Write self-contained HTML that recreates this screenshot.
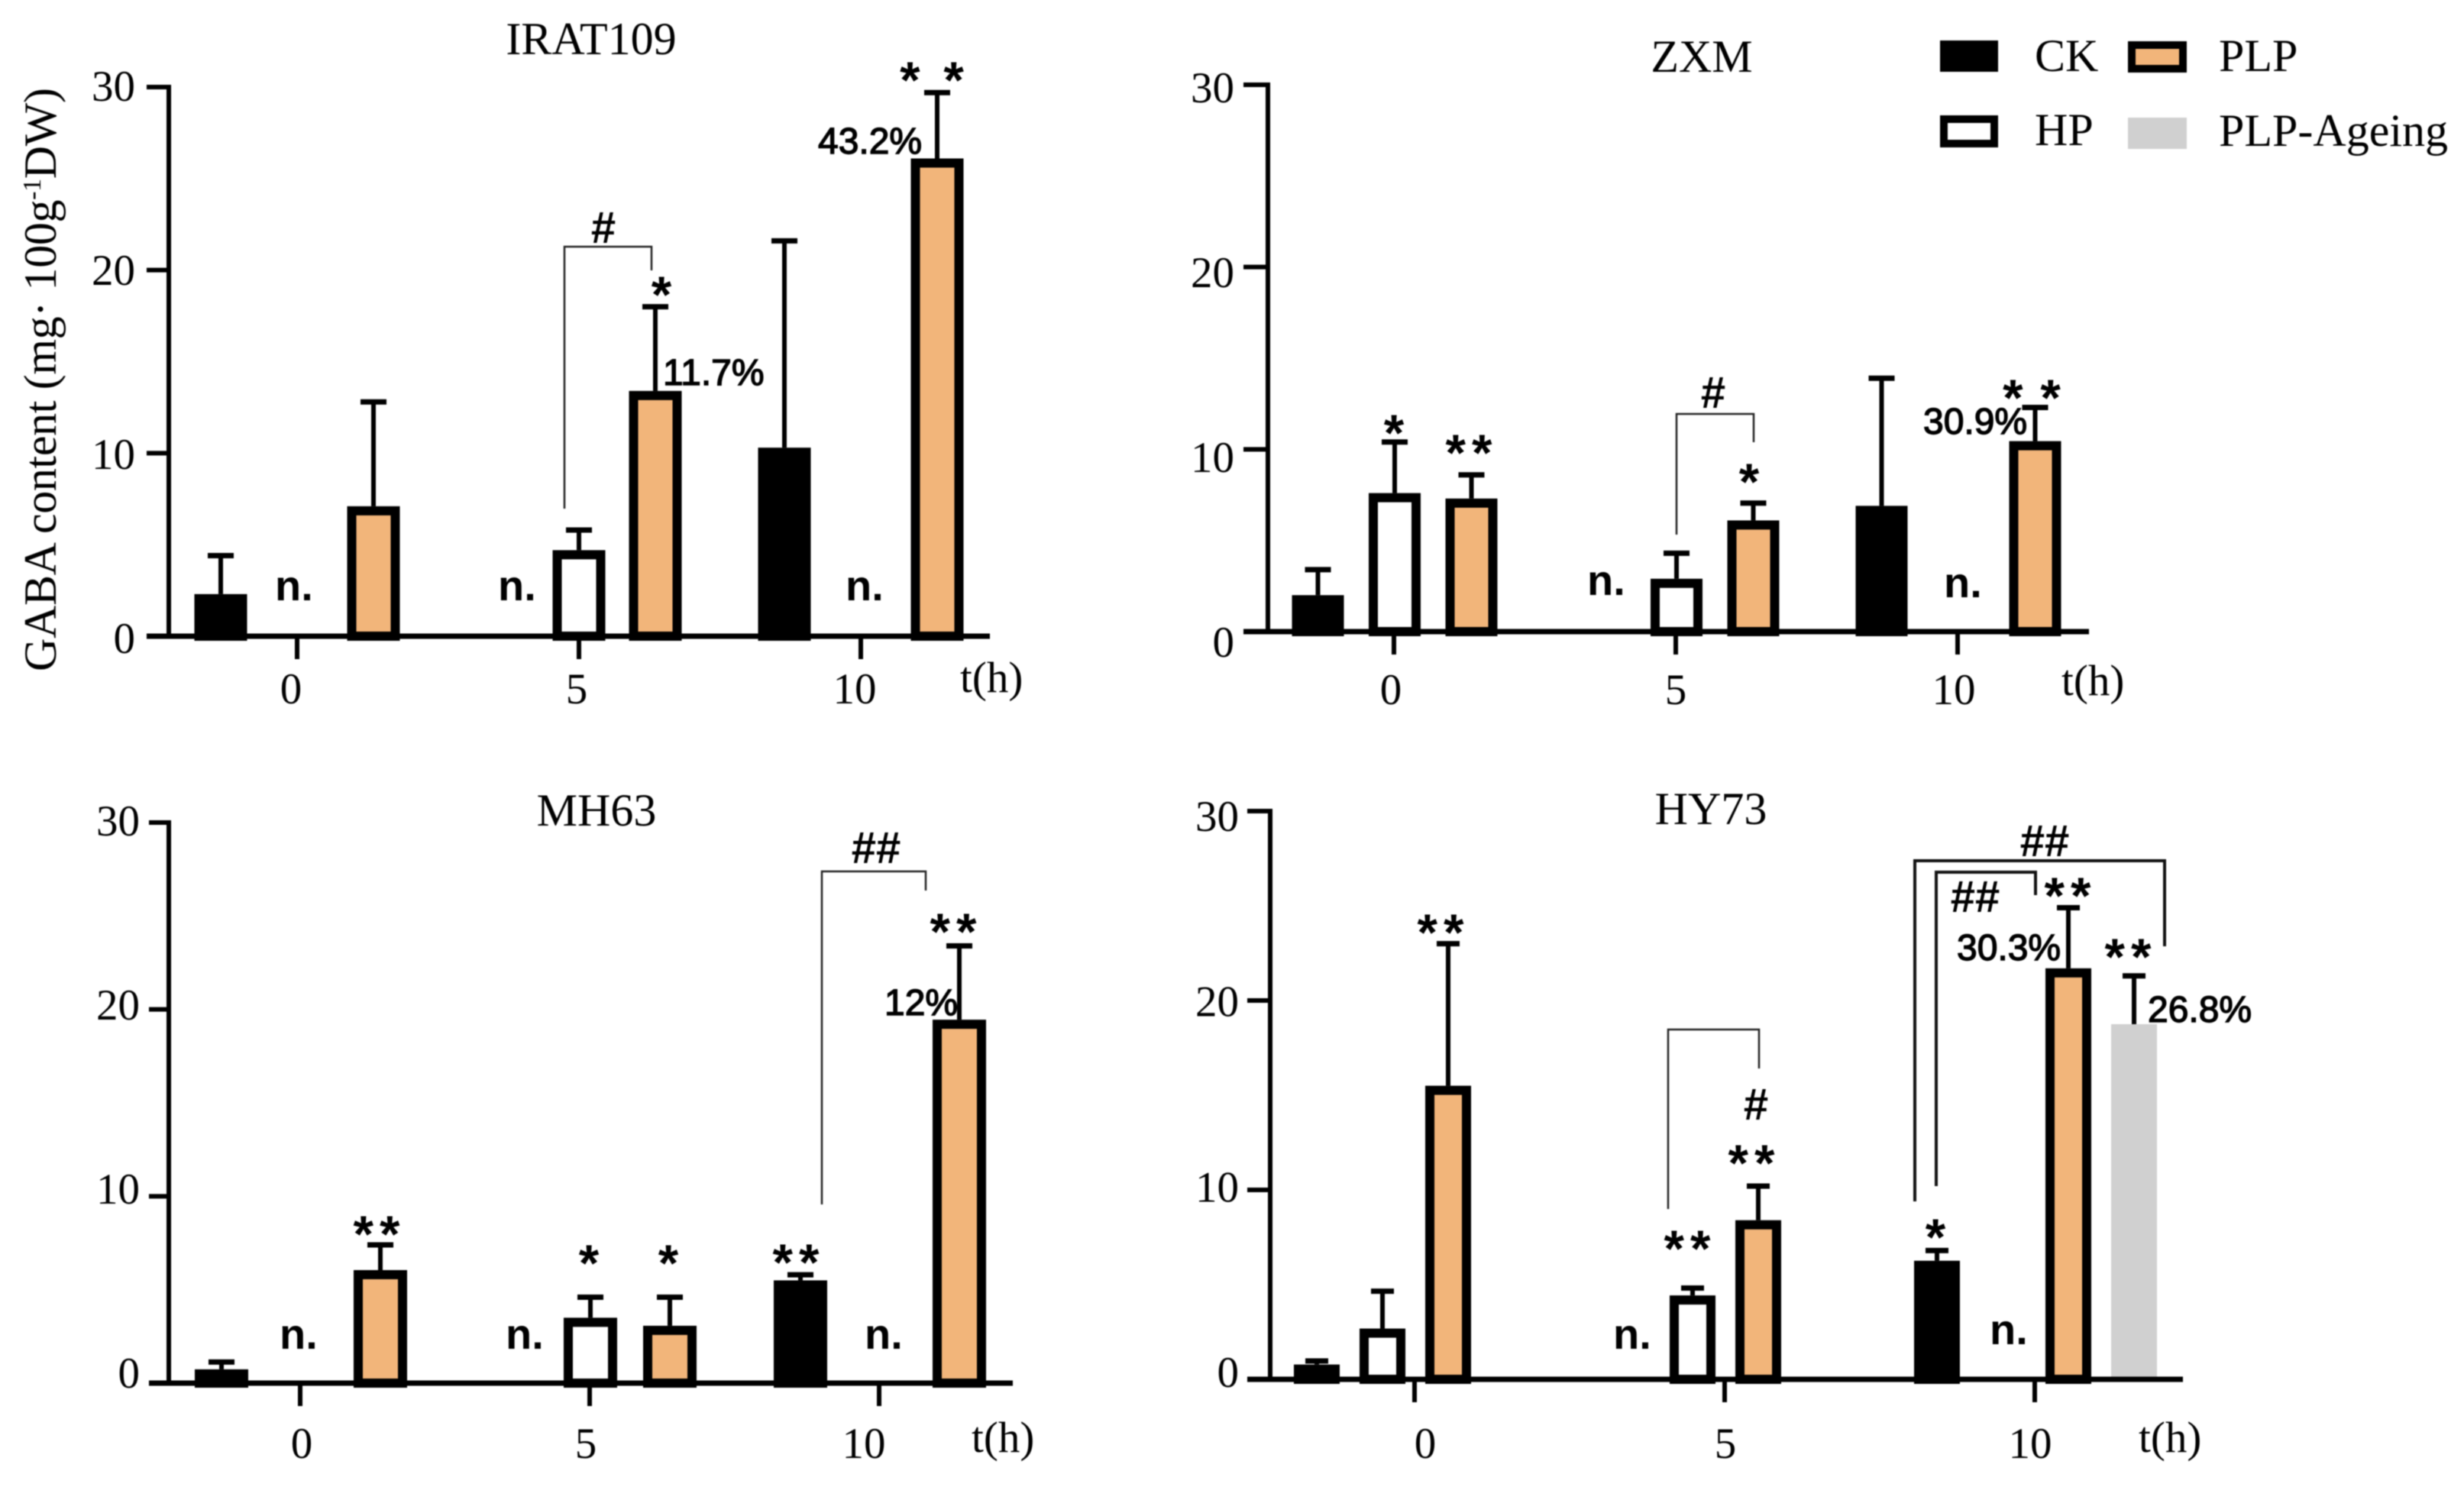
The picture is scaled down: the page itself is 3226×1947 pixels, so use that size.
<!DOCTYPE html>
<html lang="en">
<head>
<meta charset="utf-8">
<title>GABA content under HP, PLP and PLP-Ageing treatments</title>
<style>
html,body{margin:0;padding:0;background:#fff;}
#chart{display:block;width:3226px;height:1947px;filter:blur(0.7px);}
text{fill:#000;}
.serif{font-family:"Liberation Serif",serif;font-size:60px;}
.axis-title{font-family:"Liberation Serif",serif;font-size:60px;}
.tick{font-family:"Liberation Serif",serif;font-size:57px;}
.note{font-family:"Liberation Sans",sans-serif;}
.na{font-size:56px;font-weight:700;}
.pct{font-size:48px;font-weight:400;stroke:#000;stroke-width:1.4px;}
.star{font-size:68px;font-weight:700;text-anchor:middle;letter-spacing:8px;}
.hash{font-size:58px;font-weight:700;text-anchor:middle;}
.bracket{fill:none;stroke:#222;stroke-width:2.5px;}
.bracket-heavy{fill:none;stroke:#111;stroke-width:4px;}
</style>
</head>
<body>
<svg id="chart" xmlns="http://www.w3.org/2000/svg" width="3226" height="1947" viewBox="0 0 3226 1947">
  <rect x="0" y="0" width="3226" height="1947" fill="#fff"/>

  <text class="axis-title" transform="translate(73,879) rotate(-90)" textLength="764" lengthAdjust="spacing">GABA content (mg· 100g<tspan font-size="34" dy="-20">-1</tspan><tspan dy="20">DW)</tspan></text>

  <g id="marks"></g>

  <!-- IRAT109 annotations -->
  <g>
    <text class="note na" x="360" y="786">n.</text>
    <text class="note na" x="652" y="786">n.</text>
    <text class="note na" x="1107" y="786">n.</text>
    <text class="note pct" x="1071" y="201">43.2%</text>
    <text class="note pct" x="868" y="504">11.7%</text>
    <text class="note star" x="1223" y="128" style="letter-spacing:6px">* *</text>
    <text class="note star" x="866" y="409" style="letter-spacing:0">*</text>
    <text class="note hash" x="790" y="318">#</text>
    <path class="bracket" d="M739 666V323H853V354"/>
  </g>

  <!-- ZXM annotations -->
  <g>
    <text class="note na" x="2078" y="779">n.</text>
    <text class="note na" x="2545" y="782">n.</text>
    <text class="note star" x="1825" y="590" style="letter-spacing:0">*</text>
    <text class="note star" x="1927" y="616">**</text>
    <text class="note star" x="2290" y="654" style="letter-spacing:0">*</text>
    <text class="note star" x="2661" y="544" style="letter-spacing:2px">* *</text>
    <text class="note hash" x="2243" y="534">#</text>
    <path class="bracket" d="M2195 700V542H2296V579"/>
    <text class="note pct" x="2518" y="568">30.9%</text>
  </g>

  <!-- MH63 annotations -->
  <g>
    <text class="note na" x="366" y="1766">n.</text>
    <text class="note na" x="662" y="1766">n.</text>
    <text class="note na" x="1132" y="1766">n.</text>
    <text class="note star" x="497" y="1639">**</text>
    <text class="note star" x="771" y="1677" style="letter-spacing:0">*</text>
    <text class="note star" x="875" y="1677" style="letter-spacing:0">*</text>
    <text class="note star" x="1046" y="1676">**</text>
    <text class="note star" x="1252" y="1243">**</text>
    <text class="note hash" x="1147" y="1130">##</text>
    <path class="bracket" d="M1076 1577V1141H1212V1166"/>
    <text class="note pct" x="1158" y="1329">12%</text>
  </g>

  <!-- HY73 annotations -->
  <g>
    <text class="note star" x="1890" y="1244">**</text>
    <path class="bracket" d="M2184 1583V1348H2303V1399"/>
    <text class="note hash" x="2299" y="1466">#</text>
    <text class="note star" x="2297" y="1546">**</text>
    <text class="note star" x="2213" y="1658">**</text>
    <text class="note na" x="2112" y="1766">n.</text>
    <text class="note na" x="2605" y="1760">n.</text>
    <text class="note star" x="2534" y="1643" style="letter-spacing:0">*</text>
    <path class="bracket-heavy" d="M2507 1573V1127H2834V1239"/>
    <path class="bracket-heavy" d="M2535 1553V1142H2665V1172"/>
    <text class="note hash" x="2586" y="1194">##</text>
    <text class="note hash" x="2677" y="1121">##</text>
    <text class="note star" x="2711" y="1196">**</text>
    <text class="note star" x="2790" y="1276">**</text>
    <text class="note pct" x="2562" y="1257">30.3%</text>
    <text class="note pct" x="2812" y="1338">26.8%</text>
  </g>

  <!-- Legend -->
  <g>
    <g>
      <rect x="2540" y="53" width="76" height="41" fill="#000"/>
      <text class="serif" x="2664" y="93">CK</text>
    </g>
    <g>
      <rect x="2791" y="59" width="67" height="31" fill="#F2B57A" stroke="#000" stroke-width="10"/>
      <text class="serif" x="2905" y="93">PLP</text>
    </g>
    <g>
      <rect x="2545" y="156" width="66" height="32" fill="#fff" stroke="#000" stroke-width="10"/>
      <text class="serif" x="2664" y="190">HP</text>
    </g>
    <g>
      <rect x="2786" y="154" width="77" height="41" fill="#D0D0D0"/>
      <text class="serif" x="2905" y="191">PLP-Ageing</text>
    </g>
  </g>
</svg>

<script>
// Shared axis values
const categories = [0, 5, 10];
const yTicks = [0, 10, 20, 30];
const yMax = 30;
const xUnit = 't(h)';

// IRAT109: mean and upper error-bar value, per time point
const irat109Ck = [2.3, null, 10.3];
const irat109CkErr = [4.4, null, 21.6];
const irat109Hp = [null, 4.7, null];
const irat109HpErr = [null, 5.8, null];
const irat109Plp = [7.1, 13.4, 26.1];
const irat109PlpErr = [12.8, 18.0, 29.7];

// ZXM
const zxmCk = [2.0, null, 6.9];
const zxmCkErr = [3.4, null, 13.9];
const zxmHp = [7.6, 2.9, null];
const zxmHpErr = [10.4, 4.3, null];
const zxmPlp = [7.3, 6.1, 10.45];
const zxmPlpErr = [8.6, 7.05, 12.3];

// MH63
const mh63Ck = [0.74, null, 5.5];
const mh63CkErr = [1.13, null, 5.8];
const mh63Hp = [null, 3.5, null];
const mh63HpErr = [null, 4.6, null];
const mh63Plp = [6.05, 3.07, 19.45];
const mh63PlpErr = [7.4, 4.6, 23.4];

// HY73
const hy73Ck = [0.78, null, 6.26];
const hy73CkErr = [0.97, null, 6.8];
const hy73Hp = [2.68, 4.43, null];
const hy73HpErr = [4.65, 4.82, null];
const hy73Plp = [15.5, 8.4, 21.7];
const hy73PlpErr = [23.0, 10.2, 24.9];
const hy73Ageing = [null, null, 18.75];
const hy73AgeingErr = [null, null, 21.3];

const svgNS = 'http://www.w3.org/2000/svg';
const marksRoot = document.getElementById('marks');

function addLine(parent, x1, y1, x2, y2, width) {
  const el = document.createElementNS(svgNS, 'line');
  el.setAttribute('x1', x1);
  el.setAttribute('y1', y1);
  el.setAttribute('x2', x2);
  el.setAttribute('y2', y2);
  el.setAttribute('stroke', '#000');
  el.setAttribute('stroke-width', width);
  parent.appendChild(el);
  return el;
}

function addText(parent, cls, x, y, anchor, content) {
  const el = document.createElementNS(svgNS, 'text');
  el.setAttribute('class', cls);
  el.setAttribute('x', x);
  el.setAttribute('y', y);
  el.setAttribute('text-anchor', anchor);
  el.textContent = content;
  parent.appendChild(el);
  return el;
}

function drawPanel(id, title, geo, series) {
  const yScale = v => geo.yZero + (geo.yTop - geo.yZero) * v / yMax;
  const xScale = t => geo.xZero + geo.xStep * t / 5;
  const yLabelScale = v => geo.labelZero + (geo.labelTop - geo.labelZero) * v / yMax;
  const slotOffset = i => (i - (series.length - 1) / 2) * geo.slot + geo.barShift;

  const g = document.createElementNS(svgNS, 'g');
  
  
  marksRoot.appendChild(g);

  const titleEl = addText(g, 'serif', geo.titleX, geo.titleY, 'middle', title);
  
  

  // Bars and error bars
  series.forEach((s, i) => {
    s.values.forEach((value, c) => {
      if (value === null) return;
      const cx = xScale(categories[c]) + slotOffset(i);
      const top = yScale(value);
      const errTop = yScale(s.errors[c]);

      const stem = addLine(g, cx, top, cx, errTop, 6);
      
      

      const cap = addLine(g, cx - geo.cap / 2, errTop, cx + geo.cap / 2, errTop, 7);
      
      

      const bar = document.createElementNS(svgNS, 'rect');
      const sw = s.stroke === 'none' ? 0 : 12;
      bar.setAttribute('x', cx - geo.barWidth / 2 + sw / 2);
      bar.setAttribute('y', top + sw / 2);
      bar.setAttribute('width', geo.barWidth - sw);
      bar.setAttribute('height', Math.max(geo.yZero - top - sw / 2, 0));
      bar.setAttribute('fill', s.fill);
      bar.setAttribute('stroke', s.stroke);
      bar.setAttribute('stroke-width', sw);
      
      
      g.appendChild(bar);
    });
  });

  // Y axis
  const yAxis = addLine(g, geo.yAxisX, geo.yTop - 3, geo.yAxisX, geo.yZero + 3, 6);
  
  

  yTicks.forEach(v => {
    if (v > 0) {
      const t = addLine(g, geo.yTickLeft, yScale(v), geo.yAxisX, yScale(v), 6);
      
      
    }
    const label = addText(g, 'tick', geo.yLabelRight, yLabelScale(v) + 19, 'end', String(v));
    
    
  });

  // X axis
  const xAxis = addLine(g, geo.xAxisLeft, geo.yZero, geo.xAxisRight, geo.yZero, 7);
  
  

  categories.forEach((t, c) => {
    const tick = addLine(g, xScale(t), geo.yZero, xScale(t), geo.yZero + 30, 6);
    
    
    const label = addText(g, 'tick', xScale(t) + geo.xLabelShift[c], geo.xLabelY, 'middle', String(t));
    
    
  });

  const unit = addText(g, 'tick', geo.unitX, geo.unitY, 'start', xUnit);
  
  
}

const ckStyle = { key: 'ck', fill: '#000', stroke: '#000' };
const hpStyle = { key: 'hp', fill: '#fff', stroke: '#000' };
const plpStyle = { key: 'plp', fill: '#F2B57A', stroke: '#000' };
const ageingStyle = { key: 'plp-ageing', fill: '#D0D0D0', stroke: 'none' };

drawPanel('irat109', 'IRAT109', {
  yTop: 114, yZero: 833, xZero: 389, xStep: 369, slot: 100, barWidth: 69, barShift: 0, cap: 34,
  yAxisX: 221, yTickLeft: 192, xAxisLeft: 192, xAxisRight: 1296, yLabelRight: 177,
  labelTop: 113, labelZero: 836, xLabelShift: [-8, -3, -8], xLabelY: 921,
  unitX: 1257, unitY: 906, titleX: 774, titleY: 71
}, [
  Object.assign({ values: irat109Ck, errors: irat109CkErr }, ckStyle),
  Object.assign({ values: irat109Hp, errors: irat109HpErr }, hpStyle),
  Object.assign({ values: irat109Plp, errors: irat109PlpErr }, plpStyle)
]);

drawPanel('zxm', 'ZXM', {
  yTop: 111, yZero: 827, xZero: 1825, xStep: 369, slot: 100.5, barWidth: 68, barShift: 1, cap: 34,
  yAxisX: 1660, yTickLeft: 1628, xAxisLeft: 1628, xAxisRight: 2735, yLabelRight: 1616,
  labelTop: 115, labelZero: 841, xLabelShift: [-4, 0, -5], xLabelY: 922,
  unitX: 2699, unitY: 910, titleX: 2228, titleY: 94
}, [
  Object.assign({ values: zxmCk, errors: zxmCkErr }, ckStyle),
  Object.assign({ values: zxmHp, errors: zxmHpErr }, hpStyle),
  Object.assign({ values: zxmPlp, errors: zxmPlpErr }, plpStyle)
]);

drawPanel('mh63', 'MH63', {
  yTop: 1077, yZero: 1811, xZero: 393, xStep: 379, slot: 104, barWidth: 70, barShift: 1, cap: 34,
  yAxisX: 221, yTickLeft: 195, xAxisLeft: 195, xAxisRight: 1326, yLabelRight: 183,
  labelTop: 1075, labelZero: 1798, xLabelShift: [2, -5, -20], xLabelY: 1909,
  unitX: 1272, unitY: 1901, titleX: 781, titleY: 1081
}, [
  Object.assign({ values: mh63Ck, errors: mh63CkErr }, ckStyle),
  Object.assign({ values: mh63Hp, errors: mh63HpErr }, hpStyle),
  Object.assign({ values: mh63Plp, errors: mh63PlpErr }, plpStyle)
]);

drawPanel('hy73', 'HY73', {
  yTop: 1062, yZero: 1806, xZero: 1852, xStep: 406, slot: 86, barWidth: 60, barShift: 1, cap: 30,
  yAxisX: 1663, yTickLeft: 1633, xAxisLeft: 1633, xAxisRight: 2858, yLabelRight: 1622,
  labelTop: 1069, labelZero: 1797, xLabelShift: [14, 1, -6], xLabelY: 1909,
  unitX: 2800, unitY: 1901, titleX: 2240, titleY: 1079
}, [
  Object.assign({ values: hy73Ck, errors: hy73CkErr }, ckStyle),
  Object.assign({ values: hy73Hp, errors: hy73HpErr }, hpStyle),
  Object.assign({ values: hy73Plp, errors: hy73PlpErr }, plpStyle),
  Object.assign({ values: hy73Ageing, errors: hy73AgeingErr }, ageingStyle)
]);
</script>
</body>
</html>
